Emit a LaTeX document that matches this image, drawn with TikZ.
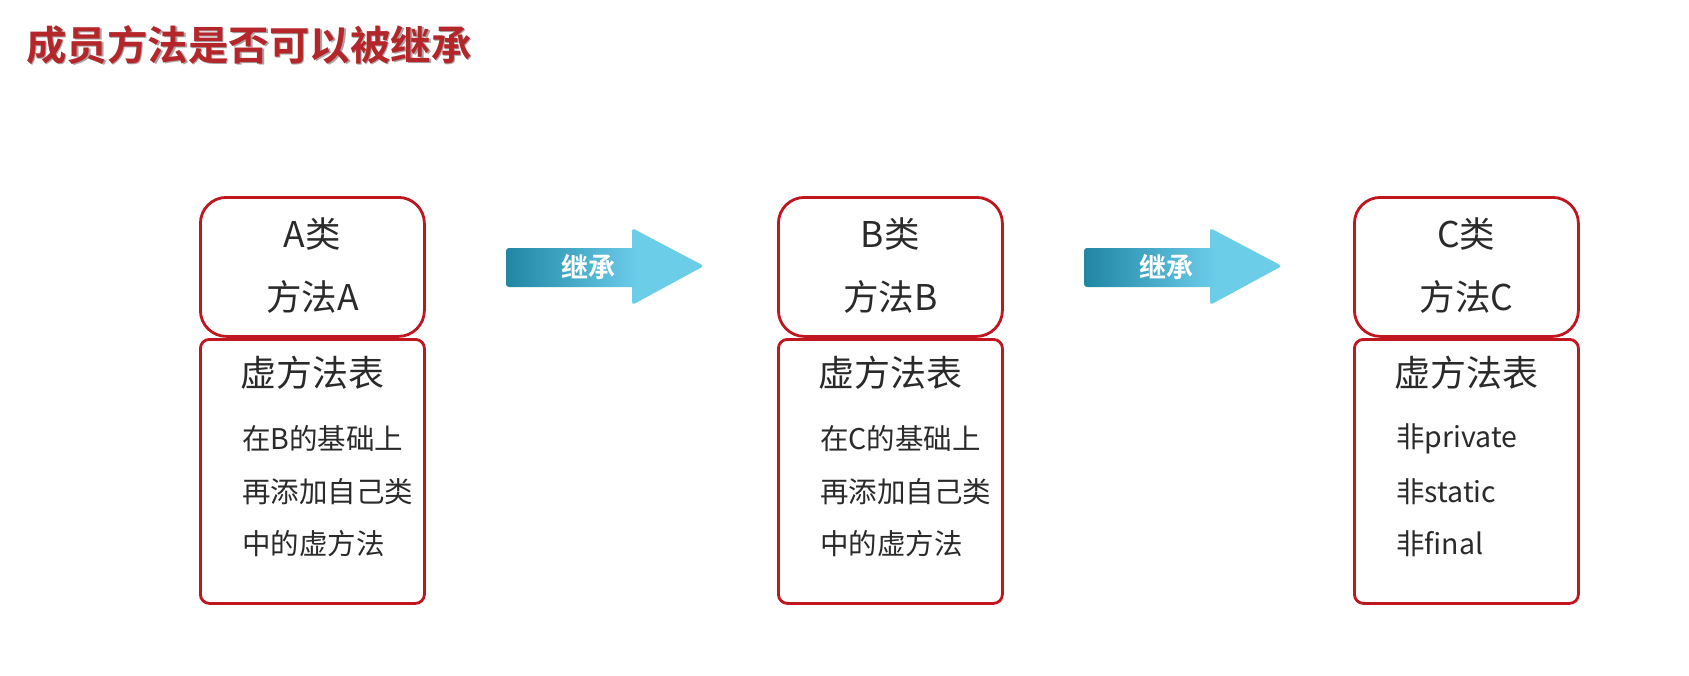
\documentclass[tikz,border=0pt]{standalone}
\usepackage{fontspec}
\setmainfont{Noto Sans CJK SC}
\newfontfamily\cjkbold{Noto Sans CJK SC Bold}
\definecolor{boxred}{HTML}{C0161F}
\definecolor{titlered}{HTML}{B5262B}
\definecolor{txtgray}{HTML}{2A2A2A}
\definecolor{arrdark}{HTML}{1F86A3}
\definecolor{arrlight}{HTML}{6CCDE9}
\tikzset{
  topbox/.style={draw=boxred, line width=2.8pt, rounded corners=26pt, fill=white, inner sep=0pt},
  botbox/.style={draw=boxred, line width=2.8pt, rounded corners=9pt, fill=white, inner sep=0pt},
  headtxt/.style={font=\fontsize{35.5}{40}\selectfont, text=txtgray, inner sep=0pt},
  tabtxt/.style={font=\fontsize{36}{40}\selectfont, text=txtgray, inner sep=0pt},
  linetxt/.style={font=\fontsize{28.5}{32}\selectfont, text=txtgray, inner sep=0pt, anchor=west},
  arrtxt/.style={font=\cjkbold\fontsize{27}{30}\selectfont, text=white, inner sep=0pt},
  titletxt/.style={font=\cjkbold\fontsize{40.5}{46}\selectfont, anchor=west, inner sep=0pt},
}
\begin{document}
\begin{tikzpicture}[x=1pt,y=-1pt]
\useasboundingbox (0,0) rectangle (1689,675);
\fill[white] (0,0) rectangle (1689,675);
% title
\node[titletxt, text=black!35] at (27.5,46.5) {成员方法是否可以被继承};
\node[titletxt, text=titlered] (title) at (26,45) {成员方法是否可以被继承};
% class boxes
\foreach \n/\x/\l/\a/\b/\c in {A/199/A/在B的基础上/再添加自己类/中的虚方法, B/777/B/在C的基础上/再添加自己类/中的虚方法, C/1353/C/非private/非static/非final}{
  \node[topbox, minimum width=224pt, minimum height=139pt, anchor=north west] (top\n) at (\x,196) {};
  \node[botbox, minimum width=224pt, minimum height=264pt, anchor=north west] (bot\n) at (\x,338) {};
  \node[headtxt] (cls\n) at ([yshift=-38pt]top\n.north) {\l 类};
  \node[headtxt] (mth\n) at ([yshift=-101pt]top\n.north) {方法\l};
  \node[tabtxt] (tab\n) at ([yshift=-35pt]bot\n.north) {虚方法表};
  \node[linetxt] (l1\n) at ([xshift=43pt,yshift=-101pt]bot\n.north west) {\a};
  \node[linetxt] (l2\n) at ([xshift=43pt,yshift=-154pt]bot\n.north west) {\b};
  \node[linetxt] (l3\n) at ([xshift=43pt,yshift=-206pt]bot\n.north west) {\c};
}
% inheritance arrows
\foreach \n/\x in {1/506, 2/1084}{
  \fill[arrlight, rounded corners=3pt] (\x+126,228) -- (\x+198,266) -- (\x+126,305) -- cycle;
  \shade[left color=arrdark, right color=arrlight, rounded corners=3pt] (\x,248) rectangle (\x+132,287);
  \node[arrtxt] (inh\n) at (\x+82,267) {继承};
}
\end{tikzpicture}
\end{document}
